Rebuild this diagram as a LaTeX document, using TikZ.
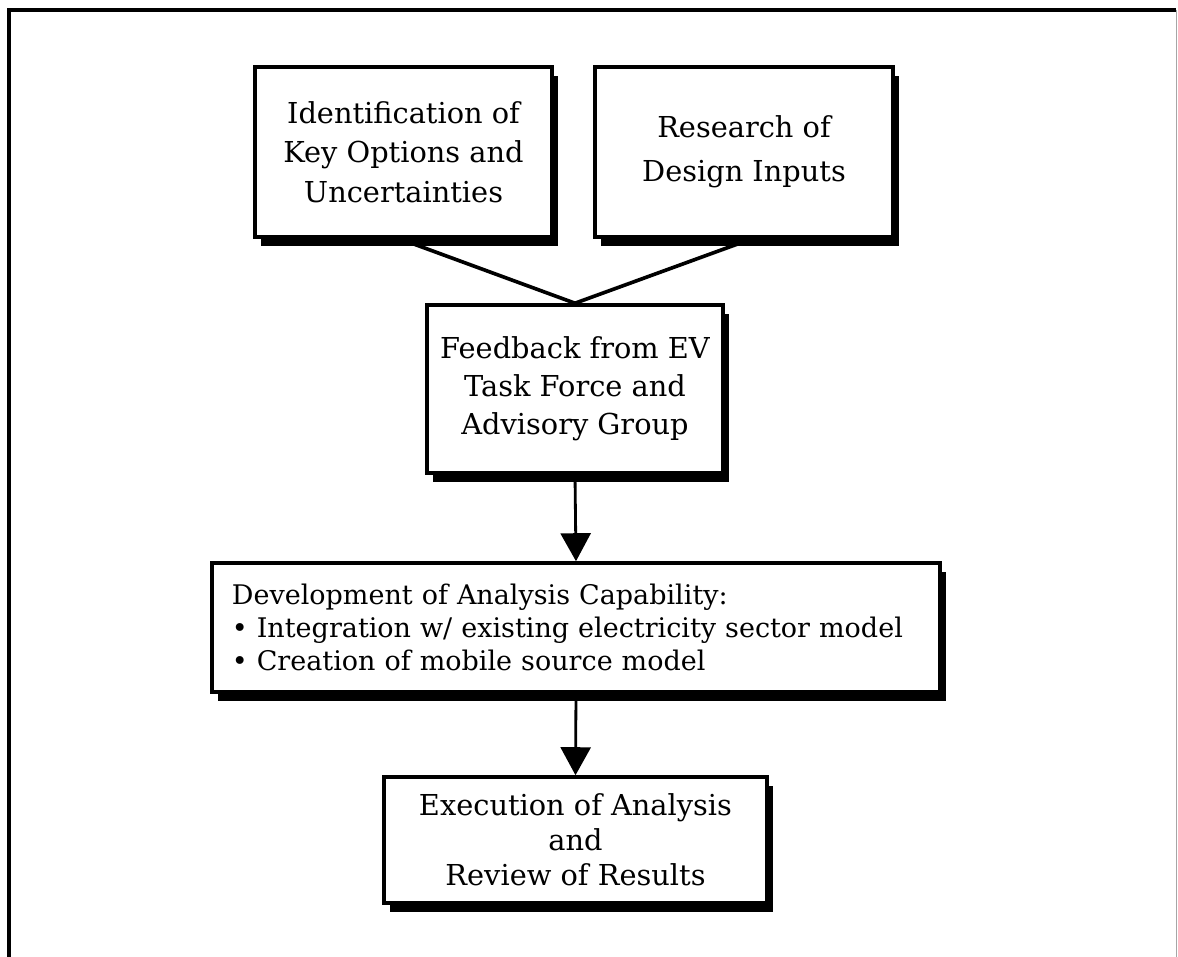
\documentclass[tikz,border=0pt]{standalone}
\usepackage{fontspec}
\setmainfont{DejaVu Serif}
\usetikzlibrary{arrows.meta,shadows}
\begin{document}
\begin{tikzpicture}[x=0.025cm,y=-0.025cm,
  box/.style={draw=black, line width=2.5pt, fill=white, align=center, inner sep=0pt,
    font=\fontsize{20.5}{27}\selectfont,
    drop shadow={shadow xshift=0.15cm, shadow yshift=-0.22cm, opacity=1, fill=black}},
  link/.style={line width=2.6pt},
  arr/.style={line width=2pt, -{Triangle[width=0.75cm,length=0.7cm]}},
  frame/.style={line width=3pt}]
\useasboundingbox (0,0) rectangle (1178,957);
% outer frame
\coordinate (fbl) at (9,957);
\coordinate (ftl) at (9,10);
\coordinate (ftr) at (1176,10);
\coordinate (fbr) at (1176,957);
\draw[frame] (fbl) -- (ftl) -- (ftr);
\draw[line width=0.4pt, black!35] (ftr) -- (fbr);
% boxes
\node[box, minimum width=7.425cm, minimum height=4.25cm, font=\fontsize{20.5}{28}\selectfont] (b1) at (403.5,152)
  {Identification of\\Key Options and\\Uncertainties};
\node[box, minimum width=7.45cm, minimum height=4.25cm, font=\fontsize{20.5}{31.5}\selectfont] (b2) at (744,152)
  {Research of\\Design Inputs};
\node[box, minimum width=7.4cm, minimum height=4.2cm, font=\fontsize{20.5}{27}\selectfont] (b3) at (575,389)
  {Feedback from EV\\Task Force and\\Advisory Group};
\node[box, align=left, text width=17.2cm, inner xsep=0.5cm, minimum height=3.225cm,
  font=\fontsize{19.2}{23.5}\selectfont] (b4) at (576,627.5)
  {Development of Analysis Capability:\\
   \textbullet{} Integration w/ existing electricity sector model\\
   \textbullet{} Creation of mobile source model};
\node[box, minimum width=9.575cm, minimum height=3.15cm, font=\fontsize{20.5}{25}\selectfont] (b5) at (575.5,840)
  {Execution of Analysis\\and\\Review of Results};
% connectors
\draw[link] ([xshift=-0.1cm]b1.south) -- (b3.north);
\draw[link] ([xshift=0.2cm]b2.south) -- (b3.north);
\draw[arr] (b3.south) -- (b4.north);
\draw[arr] (b4.south) -- (b5.north);
\end{tikzpicture}
\end{document}
